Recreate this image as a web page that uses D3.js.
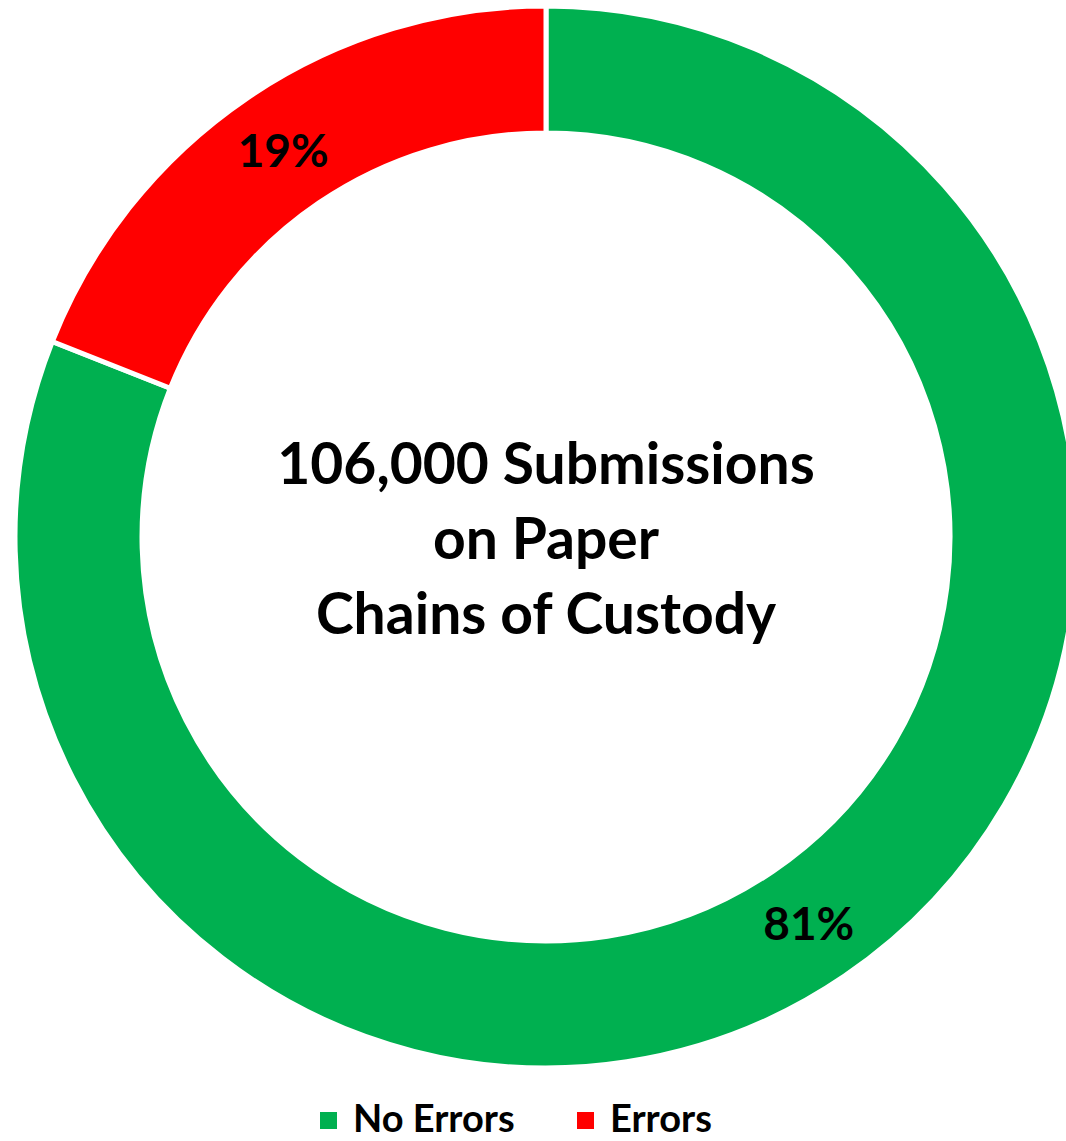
<!DOCTYPE html>
<html>
<head>
<meta charset="utf-8">
<script src="https://cdn.jsdelivr.net/npm/d3@7"></script>
<style>
  body { margin: 0; background: #fff; }
  text { font-family: Lato, "Open Sans", sans-serif; font-weight: bold; fill: #000; }
</style>
</head>
<body>
<div class="graph"></div>
<script>
  // shares of paper chains of custody
  var categories = ['No Errors', 'Errors'];
  var values = [81, 19];
  var colors = ['#00b050', '#ff0000'];
  var centerLines = ['106,000 Submissions', 'on Paper', 'Chains of Custody'];

  var width = 1066, height = 1141;
  var cx = 546, cy = 537,
      outerR = 531, innerR = 404;

  var svg = d3.select('.graph').append('svg')
      .attr('width', width)
      .attr('height', height);

  var g = svg.append('g')
      .attr('transform', 'translate(' + cx + ',' + cy + ')');

  var pie = d3.pie().sort(null).value(function(d) { return d; });
  var arc = d3.arc().innerRadius(innerR).outerRadius(outerR);
  var labelArc = d3.arc().innerRadius((innerR + outerR) / 2).outerRadius((innerR + outerR) / 2);

  var slices = pie(values);

  g.selectAll('.slice')
      .data(slices)
    .enter().append('path')
      .attr('class', 'slice')
      .attr('d', arc)
      .style('fill', function(d, i) { return colors[i]; })
      .style('stroke', '#fff')
      .style('stroke-width', 5);

  g.selectAll('.pct')
      .data(slices)
    .enter().append('text')
      .attr('class', 'pct')
      .attr('transform', function(d) { return 'translate(' + labelArc.centroid(d) + ')'; })
      .attr('text-anchor', 'middle')
      .attr('dy', '0.36em')
      .style('font-size', '46px')
      .text(function(d) { return d.data + '%'; });

  var center = g.append('text')
      .attr('text-anchor', 'middle')
      .style('font-size', '57px');
  center.selectAll('tspan')
      .data(centerLines)
    .enter().append('tspan')
      .attr('x', 0)
      .attr('y', function(d, i) { return -74 + i * 75; })
      .attr('dy', '0.36em')
      .text(function(d) { return d; });

  // legend
  var legendX = [320, 577];
  var legend = svg.selectAll('.legend')
      .data(categories)
    .enter().append('g')
      .attr('class', 'legend')
      .attr('transform', function(d, i) { return 'translate(' + legendX[i] + ',1112)'; });

  legend.append('rect')
      .attr('width', 17)
      .attr('height', 17)
      .style('fill', function(d, i) { return colors[i]; });

  legend.append('text')
      .attr('x', 33)
      .attr('y', 20)
      .style('font-size', '38px')
      .text(function(d) { return d; });
</script>
</body>
</html>
